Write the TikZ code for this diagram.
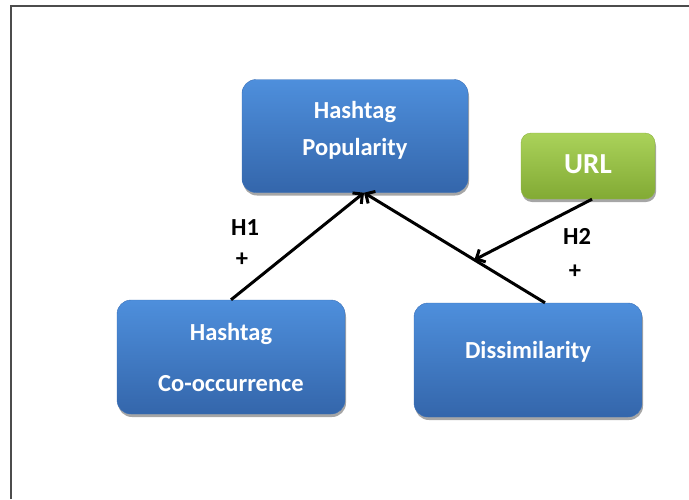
\documentclass[tikz,border=0pt]{standalone}
\usepackage{fontspec}
\setmainfont{Carlito}
\usetikzlibrary{positioning,arrows.meta,shadows}
\definecolor{BoxTop}{HTML}{4E8FDC}
\definecolor{BoxBottom}{HTML}{3466AB}
\definecolor{BoxLine}{HTML}{3A70B8}
\definecolor{UrlTop}{HTML}{AAD25A}
\definecolor{UrlBottom}{HTML}{82AA34}
\definecolor{UrlLine}{HTML}{8DB340}

\begin{document}
\begin{tikzpicture}[x=1pt,y=-1pt,>={Straight Barb[length=7pt,width=14pt]}]
      \tikzstyle{box}=[draw=BoxLine,rounded corners=14pt,align=center,minimum width=228pt,minimum height=114pt,top color=BoxTop,bottom color=BoxBottom,text=white,font=\fontsize{24.5}{37}\selectfont\bfseries,drop shadow={shadow xshift=1pt,shadow yshift=-3pt,opacity=.35,fill=black}]
      \tikzstyle{lbl}=[font=\fontsize{24.5}{28}\selectfont\bfseries]
      \tikzstyle{link}=[->,line width=3pt]
      \useasboundingbox (0,0) rectangle (689,499);
      \draw[black!70,line width=1.5pt] (11,499) -- (11,6) -- (689,6);
      \node[box,minimum width=226pt,minimum height=113pt,text depth=16pt] (pop) at (355,136) {Hashtag\\Popularity};
      \node[box] (cooc) at (231,357) {Hashtag\\[14pt]Co-occurrence};
      \node[box,text depth=20pt] (dis) at (528,360) {Dissimilarity};
      \node[box,draw=UrlLine,top color=UrlTop,bottom color=UrlBottom,minimum width=134pt,minimum height=66pt,rounded corners=10pt,font=\fontsize{29}{32}\selectfont\bfseries,text depth=3pt] (url) at (588,166) {URL};
      \node[lbl] (h1) at (245,228) {H1};
      \node[lbl] (p1) at (242,260) {+};
      \node[lbl] (h2) at (577,236) {H2};
      \node[lbl] (p2) at (575,272) {+};
      \path ([xshift=17pt]dis.north) -- ([xshift=9pt]pop.south) coordinate[pos=.39] (mid);
      \draw[link] (cooc.north) -- ([xshift=9pt]pop.south);
      \draw[link] ([xshift=17pt]dis.north) -- ([xshift=9pt]pop.south);
      \draw[link] ([xshift=4pt]url.south) -- (mid);
    \end{tikzpicture}
\end{document}
